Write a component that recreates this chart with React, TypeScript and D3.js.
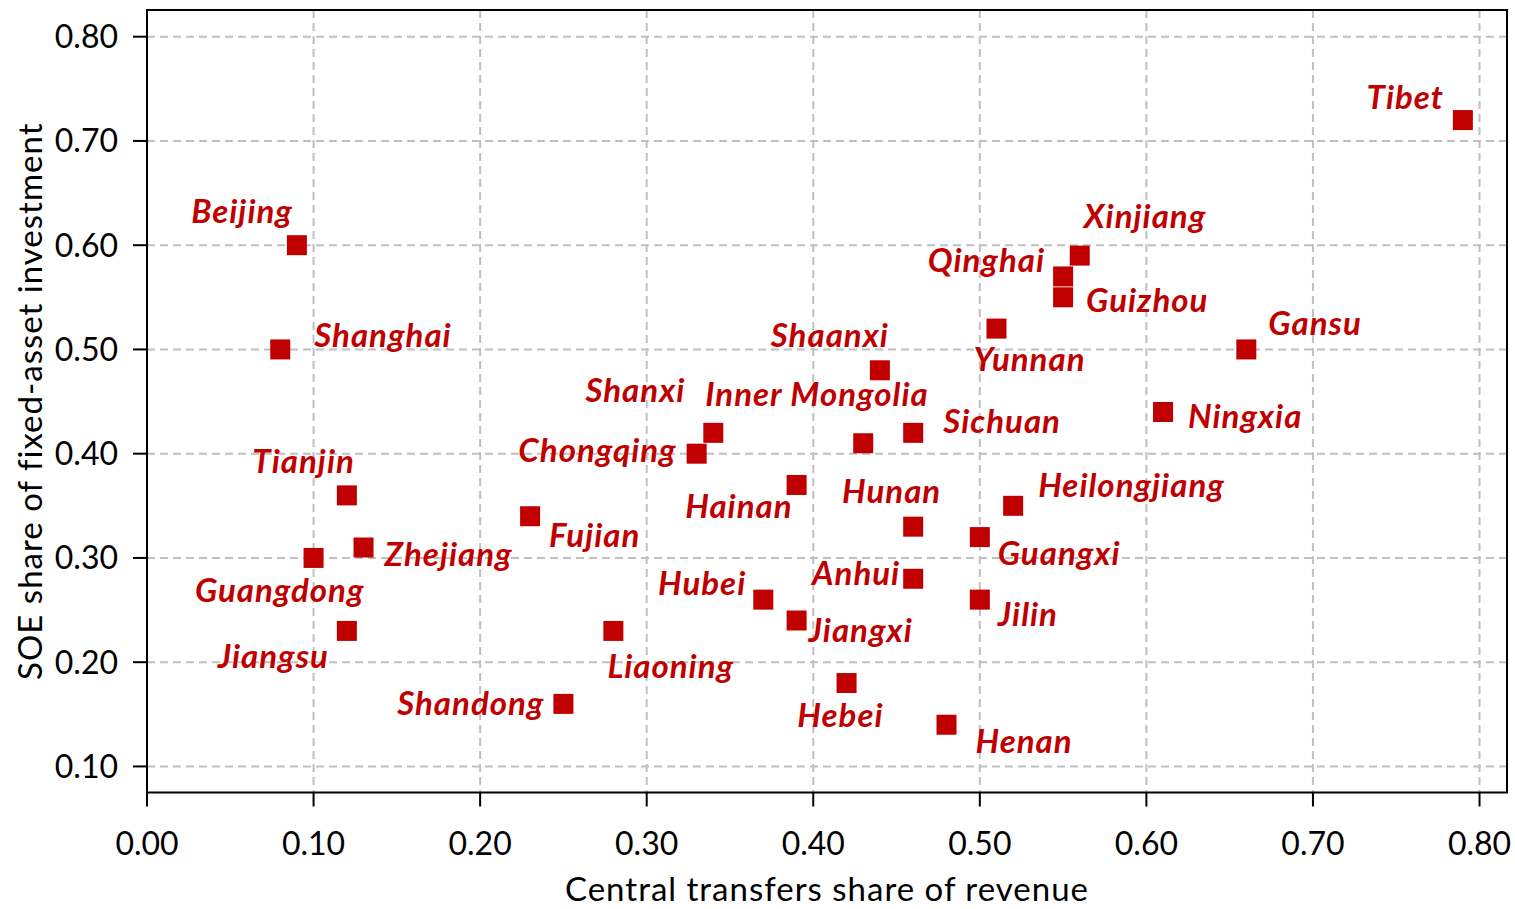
import React from "react";
import * as d3 from "d3";

const provinces = [
  "Beijing", "Shanghai", "Tianjin", "Guangdong", "Zhejiang", "Jiangsu", "Fujian", "Liaoning",
  "Shandong", "Chongqing", "Shanxi", "Inner Mongolia", "Shaanxi", "Sichuan", "Hainan", "Hunan",
  "Anhui", "Hubei", "Jiangxi", "Hebei", "Henan", "Guangxi", "Jilin", "Heilongjiang",
  "Yunnan", "Qinghai", "Guizhou", "Xinjiang", "Gansu", "Ningxia", "Tibet",
];
const transfersShare = [
  0.09, 0.08, 0.12, 0.10, 0.13, 0.12, 0.23, 0.28,
  0.25, 0.33, 0.34, 0.43, 0.44, 0.46, 0.39, 0.46,
  0.46, 0.37, 0.39, 0.42, 0.48, 0.50, 0.50, 0.52,
  0.51, 0.55, 0.55, 0.56, 0.66, 0.61, 0.79,
];
const soeShare = [
  0.60, 0.50, 0.36, 0.30, 0.31, 0.23, 0.34, 0.23,
  0.16, 0.40, 0.42, 0.41, 0.48, 0.42, 0.37, 0.33,
  0.28, 0.26, 0.24, 0.18, 0.14, 0.32, 0.26, 0.35,
  0.52, 0.57, 0.55, 0.59, 0.50, 0.44, 0.72,
];
const xTicks = [0, 0.1, 0.2, 0.3, 0.4, 0.5, 0.6, 0.7, 0.8];
const yTicks = [0.1, 0.2, 0.3, 0.4, 0.5, 0.6, 0.7, 0.8];
const xTitle = "Central transfers share of revenue";
const yTitle = "SOE share of fixed-asset investment";

// label placement (anchor, dx, dy from marker centre to text baseline)
const labelPlacement: [string, number, number][] = [
  ["end", -4, -22], ["start", 34, -2], ["end", 8, -22], ["end", 51, 44], ["start", 21, 18],
  ["end", -18, 37], ["start", 19, 31], ["start", -6, 47], ["end", -19, 11], ["end", -20, 8],
  ["end", -28, -31], ["start", -158, -37], ["end", 9, -23], ["start", 30, 0], ["end", -4, 33],
  ["end", 28, -24], ["end", -13, 6], ["end", -17, -5], ["start", 12, 22], ["end", 37, 44],
  ["start", 29, 28], ["start", 18, 28], ["start", 18, 26], ["start", 25, -9], ["start", -23, 42],
  ["end", -18, -4], ["start", 23, 15], ["start", 4, -28], ["start", 22, -14], ["start", 25, 16],
  ["end", -19, -11],
];

const W = 1515;
const H = 909;
const left = 147;
const right = 1507;
const top = 10;
const bottom = 792.5;
const RED = "#C00000";
const FONT = "Lato, 'Open Sans', sans-serif";

export default function App() {
  const x = d3.scaleLinear().domain([0, 0.8165]).range([left, right]);
  const y = d3.scaleLinear().domain([0.075, 0.8256]).range([bottom, top]);
  const fmt = d3.format(".2f");
  const size = 20;

  return (
    <svg width={W} height={H} style={{ position: "absolute", left: 0, top: 0, background: "#fff" }}
      fontFamily={FONT}>
      <rect x={0} y={0} width={W} height={H} fill="#fff" />
      {/* grid */}
      {xTicks.filter((t) => t > 0).map((t) => (
        <line key={"gx" + t} x1={x(t)} x2={x(t)} y1={top} y2={bottom}
          stroke="#c0c0c0" strokeWidth={2} strokeDasharray="8,5" />
      ))}
      {yTicks.map((t) => (
        <line key={"gy" + t} x1={left} x2={right} y1={y(t)} y2={y(t)}
          stroke="#c0c0c0" strokeWidth={2} strokeDasharray="8,5" />
      ))}
      {/* frame */}
      <rect x={left} y={top} width={right - left} height={bottom - top}
        fill="none" stroke="#000" strokeWidth={2} />
      {/* y ticks */}
      {yTicks.map((t) => (
        <g key={"ty" + t}>
          <line x1={left - 14} x2={left} y1={y(t)} y2={y(t)} stroke="#000" strokeWidth={2} />
          <text x={118} y={y(t)} dy="0.36em" textAnchor="end" fontSize={32} fill="#000">{fmt(t)}</text>
        </g>
      ))}
      {/* x ticks */}
      {xTicks.map((t) => (
        <g key={"tx" + t}>
          <line x1={x(t)} x2={x(t)} y1={bottom} y2={bottom + 14} stroke="#000" strokeWidth={2} />
          <text x={x(t)} y={855} textAnchor="middle" fontSize={32} fill="#000">{fmt(t)}</text>
        </g>
      ))}
      {/* titles */}
      <text x={(left + right) / 2} y={901} textAnchor="middle" fontSize={33} letterSpacing={1}
        fill="#000">{xTitle}</text>
      <text transform={`translate(42,${(top + bottom) / 2}) rotate(-90)`} textAnchor="middle"
        fontSize={33} letterSpacing={1} fill="#000">{yTitle}</text>
      {/* points */}
      {provinces.map((p, i) => (
        <rect key={"pt" + p} x={x(transfersShare[i]) - size / 2} y={y(soeShare[i]) - size / 2}
          width={size} height={size} fill={RED} />
      ))}
      {/* labels */}
      {provinces.map((p, i) => {
        const [anchor, dx, dy] = labelPlacement[i];
        return (
          <text key={"lb" + p} x={x(transfersShare[i]) + dx} y={y(soeShare[i]) + dy}
            textAnchor={anchor} fontSize={33} letterSpacing={1} fontWeight="bold"
            fontStyle="italic" fill={RED}>
            {p}
          </text>
        );
      })}
    </svg>
  );
}
